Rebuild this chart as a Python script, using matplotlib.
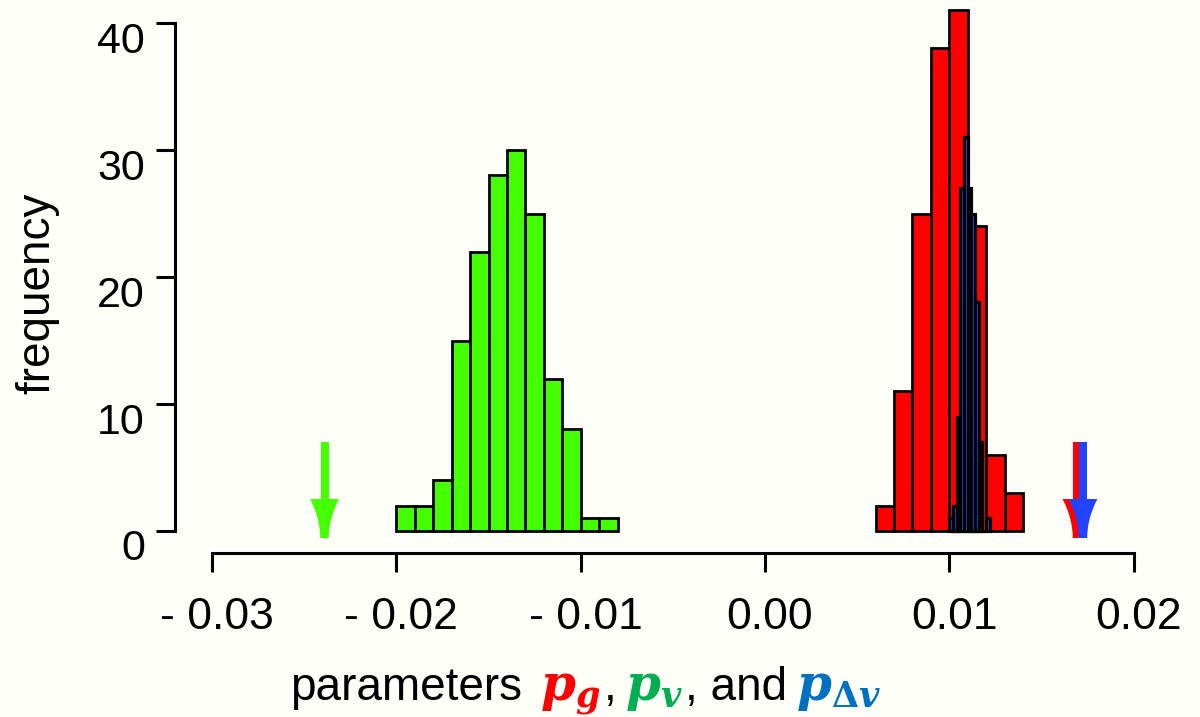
import numpy as np
import matplotlib

matplotlib.use("Agg")
import matplotlib.pyplot as plt
from matplotlib.patches import Polygon
from matplotlib.transforms import ScaledTranslation

# histogram bins (left edges) and counts
GREEN_LEFT = [-0.020, -0.019, -0.018, -0.017, -0.016, -0.015, -0.014, -0.013, -0.012, -0.011, -0.010, -0.009]
GREEN_COUNTS = [2, 2, 4, 15, 22, 28, 30, 25, 12, 8, 1, 1]
GREEN_WIDTH = 0.001

RED_LEFT = [0.006, 0.007, 0.008, 0.009, 0.010, 0.011, 0.012, 0.013]
RED_COUNTS = [2, 11, 25, 38, 41, 24, 6, 3]
RED_WIDTH = 0.001

BLUE_LEFT = [0.0100, 0.0102, 0.0104, 0.0106, 0.0108, 0.0110, 0.0112, 0.0114, 0.0116, 0.0118, 0.0120]
BLUE_COUNTS = [1, 2, 9, 27, 31, 27, 25, 18, 7, 0, 1]
BLUE_WIDTH = 0.0002

# true parameter values marked with arrows
ARROW_X = [-0.0239, 0.01693, 0.01725]
ARROW_COLORS = ["#44ff00", "#ff0000", "#2244ff"]

X_TICKS = [-0.03, -0.02, -0.01, 0.0, 0.01, 0.02]
X_TICK_LABELS = ["- 0.03", "- 0.02", "- 0.01", "0.00", "0.01", "0.02"]
Y_TICKS = [0, 10, 20, 30, 40]

XLABEL_PARTS = [
    ("parameters", "black", False),
    (r"$\mathbfit{p}_{\mathbfit{g}}$", "#ff0000", True),
    (",", "black", False),
    (r"$\mathbfit{p}_{\mathbfit{v}}$", "#00b050", True),
    (", and", "black", False),
    (r"$\mathbfit{p}_{\mathbf{\Delta}\mathbfit{v}}$", "#0070c0", True),
]
XLABEL_GAPS = [18, 3, 9, 1, 9, 0]

BG = "#fffffa"
W, H = 1200, 717


def draw_arrow(ax, x, color):
    tip = ax.transData.transform((x, 0)) + np.array([0.0, -7.0])
    s = np.linspace(0, 1, 40)
    hw = 4.3 + 10.2 * s ** 2
    ys = tip[1] + 39.0 * s
    left = np.column_stack([tip[0] - hw, ys])
    right = np.column_stack([tip[0] + hw, ys])[::-1]
    verts = ax.transData.inverted().transform(np.vstack([left, right]))
    ax.add_patch(Polygon(verts, closed=True, facecolor=color, edgecolor="none", clip_on=False, zorder=4))
    head_top = ax.transData.inverted().transform((tip[0], tip[1] + 38.0))[1]
    ax.plot([x, x], [7.0, head_top], color=color, lw=5.8, solid_capstyle="butt", clip_on=False, zorder=4)


def main():
    plt.rcParams["font.family"] = ["Liberation Sans", "DejaVu Sans"]
    plt.rcParams["mathtext.fontset"] = "dejavuserif"

    fig = plt.figure(figsize=(W / 100, H / 100), dpi=100, facecolor=BG)
    ax = fig.add_axes([175 / W, 186 / H, (1160 - 175) / W, 527 / H])
    ax.set_facecolor(BG)
    ax.set_xlim((175 - 765) / 18430, (1160 - 765) / 18430)
    ax.set_ylim(0, 41.5)

    ax.bar(GREEN_LEFT, GREEN_COUNTS, width=GREEN_WIDTH, align="edge", color="#44ff00",
           edgecolor="black", linewidth=2.0, clip_on=False, zorder=2)
    ax.bar(RED_LEFT, RED_COUNTS, width=RED_WIDTH, align="edge", color="#ff0000",
           edgecolor="black", linewidth=2.0, clip_on=False, zorder=2)
    ax.bar(BLUE_LEFT, BLUE_COUNTS, width=BLUE_WIDTH, align="edge", color="#2a4bff",
           edgecolor="black", linewidth=2.3, clip_on=False, zorder=3)

    for x, c in zip(ARROW_X, ARROW_COLORS):
        draw_arrow(ax, x, c)

    for side in ("top", "right"):
        ax.spines[side].set_visible(False)
    ax.spines["bottom"].set_position(("outward", 22 * 0.72))
    ax.spines["bottom"].set_bounds(-0.03, 0.02)
    ax.spines["left"].set_bounds(0, 40)
    for side in ("bottom", "left"):
        ax.spines[side].set_linewidth(2.2)

    ax.tick_params(axis="both", length=13.7, width=2.2, color="black")
    ax.tick_params(axis="x", pad=18)
    ax.tick_params(axis="y", pad=8)
    ax.set_xticks(X_TICKS)
    ax.set_xticklabels(X_TICK_LABELS, fontsize=32)
    ax.set_yticks(Y_TICKS)
    ax.set_yticklabels([str(v) for v in Y_TICKS], fontsize=31)

    for lab in ax.get_xticklabels():
        lab.set_transform(lab.get_transform() + ScaledTranslation(5 / 100, 0, fig.dpi_scale_trans))
    for lab in ax.get_yticklabels():
        lab.set_transform(lab.get_transform() + ScaledTranslation(0, -14 / 100, fig.dpi_scale_trans))

    ax.set_ylabel("frequency", fontsize=33, va="center")
    ax.yaxis.set_label_coords(37 / W, 1 - 293 / H, transform=fig.transFigure)

    # multicolour x label, placed piece by piece on a shared baseline
    renderer = fig.canvas.get_renderer()
    x_px = 290.0
    y_base = 17.0
    for (txt, color, is_math), gap in zip(XLABEL_PARTS, XLABEL_GAPS):
        t = fig.text(x_px / W, y_base / H, txt, color=color, fontsize=36 if is_math else 33,
                     ha="left", va="baseline")
        x_px += t.get_window_extent(renderer).width + gap

    fig.savefig("out.png", dpi=100, facecolor=BG)


if __name__ == "__main__":
    main()
